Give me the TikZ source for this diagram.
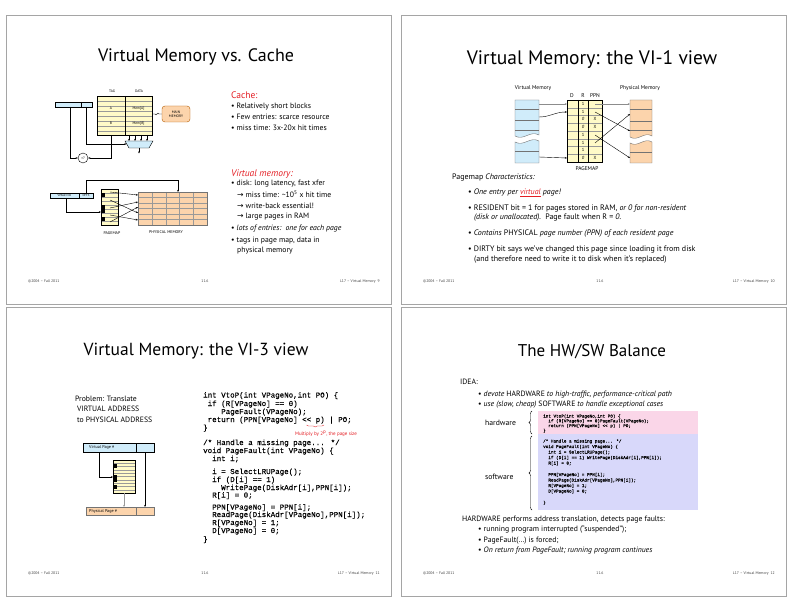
\documentclass[tikz,border=0pt]{standalone}
\usepackage{fontspec}
\setmainfont{PT Sans}
\setmonofont{Liberation Mono}
\newfontfamily\codefont{Liberation Mono}[FakeBold=0.25]
\newfontfamily\symf{DejaVu Sans}
\usetikzlibrary{arrows.meta,decorations.pathreplacing,shapes.geometric}
\definecolor{vmblue}{RGB}{208,236,250}
\definecolor{pmyellow}{RGB}{255,250,200}
\definecolor{pmorange}{RGB}{252,212,172}
\definecolor{ttlred}{RGB}{228,30,36}
\definecolor{hwpink}{RGB}{250,214,232}
\definecolor{swblue}{RGB}{216,216,250}
\definecolor{edge}{RGB}{165,165,165}
\newcommand{\rarr}{{\symf\char"2192}}
\begin{document}
\begin{tikzpicture}[x=1pt,y=-1pt,
  ttl/.style={font=\fontsize{18}{22}\selectfont, inner sep=0pt},
  txt/.style={font=\fontsize{7.7}{9}\selectfont, anchor=base west, inner sep=0pt},
  txtb/.style={font=\fontsize{7.95}{9}\selectfont, anchor=base west, inner sep=0pt},
  redh/.style={font=\fontsize{9.5}{11}\selectfont, text=ttlred, anchor=base west, inner sep=0pt},
  foot/.style={font=\fontsize{3.8}{4.5}\selectfont, text=black!75, inner sep=0pt},
  lbl/.style={font=\fontsize{3.6}{4}\selectfont, inner sep=0pt},
  mlbl/.style={font=\fontsize{5.5}{6}\selectfont, inner sep=0pt},
  code/.style={font=\codefont\fontsize{7.5}{8}\selectfont, anchor=base west, inner sep=0pt},
  scode/.style={font=\codefont\fontsize{4.3}{5}\selectfont, anchor=base west, inner sep=0pt},
  wire/.style={line width=0.4pt},
  grid/.style={draw=black!40, line width=0.3pt},
  arr/.style={-{Stealth[length=2.2pt,width=1.8pt]}, line width=0.4pt},
  border/.style={draw=edge, line width=0.7pt},
]
\useasboundingbox (0,0) rectangle (792,612);
\fill[white] (0,0) rectangle (792,612);
% slide borders
\draw[border] (6,15) rectangle (391,304);
\draw[border] (401,15) rectangle (786,304);
\draw[border] (6,307) rectangle (391,596);
\draw[border] (401,307) rectangle (786,596);

%================ SLIDE 1 =================
\node[ttl] (t1) at (196,57) {Virtual Memory vs. Cache};
% cache diagram
\node[lbl] (tag) at (112,91) {TAG};
\node[lbl] (data) at (139,91) {DATA};
\fill[pmyellow] (97,96) rectangle (152,135);
\foreach \yy in {101,106,111,116,121,126,131} \draw[grid] (97,\yy) -- (152,\yy);
\draw[wire] (97,96) rectangle (152,135);
\draw[wire] (125,96) -- (125,135);
\node[lbl] (ta) at (111,108.5) {A};
\node[lbl] (tb) at (111,123.5) {B};
\node[lbl] (ma) at (138.5,108.5) {Mem[A]};
\node[lbl] (mb) at (138.5,123.5) {Mem[B]};
\node[draw=orange!70!black, fill=pmorange, rounded corners=3pt, minimum width=28pt, minimum height=16pt, lbl, align=center] (mm) at (176,114) {MAIN\\MEMORY};
\coordinate (tabr) at (152,114);
\draw[wire] (tabr) -- (155,114) .. controls (156.5,117) and (157.5,111) .. (159,114) -- (mm.west);
\coordinate (areg) at (55,102);
\draw[wire, fill=vmblue] (areg) rectangle (92,107);
\draw[wire] (81,102) -- (81,107);
\draw[wire, fill=vmblue] (125,141) -- (153,141) -- (149,148) -- (129,148) -- cycle;
\foreach \xx in {129,135,141,147} \draw[arr] (\xx,135) -- (\xx,141);
\coordinate (muxo) at (139,148);
\coordinate (muxe) at (139,153.5);
\draw[arr] (muxo) -- (muxe);
\node[draw, circle, minimum size=10pt, inner sep=0pt, lbl] (cmp) at (83,158) {=?};
\coordinate (a1) at (70,107);
\coordinate (a2) at (86,107);
\coordinate (muxl) at (126.5,144);
\coordinate (tagb) at (111,135);
\draw[arr] (a1) |- (cmp.west);
\draw[arr] (a2) |- (muxl);
\draw[arr] (tagb) |- (cmp.east);
% paging diagram
\draw[wire, fill=vmblue] (50,193) rectangle (93,198);
\draw[wire] (79,193) -- (79,198);
\node[lbl, font=\fontsize{3}{3}\selectfont] (vpn) at (64.5,195.6) {VPAGE NO.};
\node[lbl, font=\fontsize{3}{3}\selectfont] (offs) at (86,195.6) {OFFS};
\fill[pmyellow] (101,189) rectangle (118,225);
\foreach \yy in {193,197,...,221} \draw[grid] (101,\yy) -- (118,\yy);
\fill (101,193) rectangle (105,197);
\fill (101,205) rectangle (105,213);
\fill (101,217) rectangle (105,221);
\draw[wire] (101,189) rectangle (118,225);
\fill[pmorange] (138,192) rectangle (207,225);
\foreach \xx in {152,166,179,193} \draw[grid] (\xx,192) -- (\xx,225);
\foreach \yy in {197.5,203,208.5,214,219.5} \draw[grid] (138,\yy) -- (207,\yy);
\draw[wire, draw=black!55] (138,192) rectangle (207,225);
\coordinate (o1) at (86,193);
\coordinate (o2) at (178,192);
\draw[arr] (o1) |- (178,180) -- (o2);
\coordinate (v1) at (66,198);
\coordinate (v2) at (101,212);
\draw[arr] (v1) |- (v2);
\foreach \ya/\yb in {192/195,200/213,208/202,215/220,222/207} \draw[arr] (110,\ya) -- (138,\yb);
\node[lbl, font=\fontsize{4}{4}\selectfont] (pml) at (112,233) {PAGEMAP};
\node[lbl, font=\fontsize{4}{4}\selectfont] (phl) at (166,232) {PHYSICAL MEMORY};
% text
\node[redh] at (231,99) {Cache:};
\node[txt] at (231,108.5) {• Relatively short blocks};
\node[txt] at (231,119.5) {• Few entries: scarce resource};
\node[txt] at (231,130.5) {• miss time: 3x-20x hit times};
\node[redh] at (231,177) {\itshape Virtual memory:};
\node[txt] at (231,186) {• disk: long latency, fast xfer};
\node[txt] at (237,197.5) {\rarr\ miss time: \textasciitilde10\textsuperscript{5} x hit time};
\node[txt] at (237,208.5) {\rarr\ write-back essential!};
\node[txt] at (237,219) {\rarr\ large pages in RAM};
\node[txt] at (231,231) {• \itshape lots of entries:\ \ one for each page};
\node[txt] at (231,242.5) {• tags in page map, data in};
\node[txt] at (237,253) {physical memory};
% footer
\node[foot, anchor=base west] at (28,283) {©2004 – Fall 2011};
\node[foot, anchor=base] at (205,283) {11.6};
\node[foot, anchor=base east] at (380,283) {L17 – Virtual Memory\ \ 9};

%================ SLIDE 2 =================
\node[ttl, font=\fontsize{19.5}{22}\selectfont] (t2) at (592,60) {Virtual Memory: the VI-1 view};
\node[mlbl] (vml) at (533,88) {Virtual Memory};
\node[mlbl] (pml2) at (640,88) {Physical Memory};
% virtual memory column
\draw[wire, draw=black!55, fill=vmblue] (515,100) -- (539,100) -- (539,135) .. controls (530,130) and (524,141) .. (515,136) -- cycle;
\draw[wire, draw=black!55, fill=vmblue] (515,142) .. controls (524,147) and (530,136) .. (539,141) -- (539,163) -- (515,163) -- cycle;
\foreach \yy in {109,120,130,151} \draw[wire, draw=black!55] (515,\yy) -- (539,\yy);
% physical memory column
\draw[wire, draw=black!55, fill=pmorange] (630,100) -- (652,100) -- (652,136) .. controls (644,131) and (638,142) .. (630,137) -- cycle;
\draw[wire, draw=black!55, fill=pmorange] (630,143) .. controls (638,148) and (644,137) .. (652,142) -- (652,163) -- (630,163) -- cycle;
\foreach \yy in {109,121,130,152} \draw[wire, draw=black!55] (630,\yy) -- (652,\yy);
% pagemap
\fill[pmyellow] (567,100) rectangle (602,162);
\foreach \i in {1,...,7} \draw[grid] (567,100+\i*7.75) -- (602,100+\i*7.75);
\draw[wire] (567,100) rectangle (602,162);
\draw[wire] (578,100) -- (578,162);
\draw[wire] (588,100) -- (588,162);
\node[mlbl] at (572,96) {D};
\node[mlbl] at (583,96) {R};
\node[mlbl] at (595,96) {PPN};
\foreach \r/\v in {1/1,2/1,3/\textit{0},4/\textit{0},5/1,6/1,7/1,8/\textit{0}}
  \node[lbl, font=\fontsize{4.5}{5}\selectfont] at (583,100+\r*7.75-3.875) {\v};
\foreach \r in {3,4,8}
  \node[lbl, font=\fontsize{4.5}{5}\selectfont] at (595,100+\r*7.75-3.875) {X};
\node[mlbl] (pgm) at (587,169) {PAGEMAP};
\coordinate (vr1) at (539,104);
\coordinate (pl1) at (567,104);
\coordinate (pr1) at (595,104);
\coordinate (ph1) at (630,104);
\draw[arr, draw=black!45] (vr1) -- (pl1);
\draw[arr, draw=black!45] (pr1) -- (ph1);
\coordinate (vr2) at (539,117);
\coordinate (pl2) at (567,112);
\draw[arr] (vr2) .. controls (550,117) and (555,112) .. (pl2);
\coordinate (pr2) at (595,112);
\coordinate (ph4) at (630,131);
\draw[arr] (pr2) -- (ph4);
\coordinate (pr5) at (595,135);
\coordinate (ph8) at (630,158);
\draw[arr] (pr5) -- (ph8);
\coordinate (pr6) at (595,143);
\coordinate (ph2) at (630,114);
\draw[arr] (pr6) -- (ph2);
\coordinate (vr8) at (539,157);
\coordinate (pl8) at (567,158);
\draw[arr] (vr8) -- (pl8);
% text
\node[txtb] at (452,180) {Pagemap \itshape Characteristics:};
\node[txtb] at (468,195) {• \itshape One entry per \textcolor{ttlred}{\underline{virtual}} page!};
\node[txtb] at (468,211) {• RESIDENT bit = 1 for pages stored in RAM, \itshape or 0 for non-resident};
\node[txtb] at (474,219.5) {\itshape (disk or unallocated).\upshape\ \ Page fault when R = \itshape 0.};
\node[txtb] at (468,236) {• \itshape Contains \upshape PHYSICAL \itshape page number (PPN) of each resident page};
\node[txtb] at (468,252) {• DIRTY bit says we’ve changed this page since loading it from disk};
\node[txtb] at (474,261.5) {(and therefore need to write it to disk when it’s replaced)};
\node[foot, anchor=base west] at (423,283) {©2004 – Fall 2011};
\node[foot, anchor=base] at (600,283) {11.6};
\node[foot, anchor=base east] at (775,283) {L17 – Virtual Memory\ \ 10};

%================ SLIDE 3 =================
\node[ttl, font=\fontsize{17.5}{22}\selectfont] (t3) at (196,351) {Virtual Memory: the VI-3 view};
\node[txt] at (75,401) {Problem: Translate};
\node[txt] at (77,411.5) {VIRTUAL ADDRESS};
\node[txt] at (77,422) {to PHYSICAL ADDRESS};
\draw[wire, fill=vmblue] (83,443) rectangle (154,452);
\draw[wire] (136,443) -- (136,452);
\node[lbl, font=\fontsize{4.2}{5}\selectfont, anchor=west] (vpg) at (89,447.5) {Virtual Page \#};
\fill[pmyellow] (113,460) rectangle (135,493);
\foreach \yy in {463.3,466.6,...,490} \draw[grid] (113,\yy) -- (135,\yy);
\fill (113,464) rectangle (117,468);
\fill (113,475) rectangle (117,482);
\fill (113,485) rectangle (117,489);
\draw[wire] (113,460) rectangle (135,493);
\draw[wire, draw=black!55, fill=pmorange] (86,507) rectangle (154,515);
\draw[wire, draw=black!55] (136,507) -- (136,515);
\node[lbl, font=\fontsize{4.2}{5}\selectfont, anchor=west] (ppg) at (89,511) {Physical Page \#};
\coordinate (vp1) at (99,452);
\coordinate (pm3) at (113,477);
\draw[arr] (vp1) |- (pm3);
\coordinate (pm3b) at (124,493);
\coordinate (pp1) at (124,507);
\draw[arr, draw=black!40, line width=0.8pt] (pm3b) -- (pp1);
\coordinate (vo1) at (145,452);
\coordinate (po1) at (145,507);
\draw[arr] (vo1) -- (po1);
% code
\node[code] at (203,397.5) {int VtoP(int VPageNo,int PO) \{};
\node[code] at (203,406) {\ if (R[VPageNo] == 0)};
\node[code] at (203,414) {\ \ \ \ PageFault(VPageNo);};
\node[code] at (203,422) {\ return (PPN[VPageNo] << p) | PO;};
\node[code] at (203,430) {\}};
\draw[ttlred, line width=0.4pt, decorate, decoration={brace, amplitude=2pt}] (324,425) -- (306.5,425);
\node[lbl, font=\fontsize{5}{6}\selectfont, text=ttlred] (mul) at (326,434) {Multiply by 2\textsuperscript{p}, the page size};
\node[code] at (203,445) {/* Handle a missing page... */};
\node[code] at (203,453) {void PageFault(int VPageNo) \{};
\node[code] at (203,461) {\ \ int i;};
\node[code] at (203,474) {\ \ i = SelectLRUPage();};
\node[code] at (203,482) {\ \ if (D[i] == 1)};
\node[code] at (203,490) {\ \ \ \ WritePage(DiskAdr[i],PPN[i]);};
\node[code] at (203,497.5) {\ \ R[i] = 0;};
\node[code] at (203,509.5) {\ \ PPN[VPageNo] = PPN[i];};
\node[code] at (203,517) {\ \ ReadPage(DiskAdr[VPageNo],PPN[i]);};
\node[code] at (203,525) {\ \ R[VPageNo] = 1;};
\node[code] at (203,533) {\ \ D[VPageNo] = 0;};
\node[code] at (203,541.5) {\}};
\node[foot, anchor=base west] at (28,574) {©2004 – Fall 2011};
\node[foot, anchor=base] at (205,574) {11.6};
\node[foot, anchor=base east] at (380,574) {L17 – Virtual Memory\ \ 11};

%================ SLIDE 4 =================
\node[ttl, font=\fontsize{17}{22}\selectfont] (t4) at (592,352) {The HW/SW Balance};
\node[txt] at (460,384.5) {IDEA:};
\node[txt] at (478,396.5) {• \itshape devote \upshape HARDWARE \itshape to high-traffic, performance-critical path};
\node[txt] at (478,406.5) {• \itshape use (slow, cheap) \upshape SOFTWARE \itshape to handle exceptional cases};
\fill[hwpink] (538,411) rectangle (698,434);
\fill[swblue] (538,434) rectangle (698,510);
\node[scode] at (543,417.5) {int VtoP(int VPageNo,int PO) \{};
\node[scode] at (543,422.3) {\ \ if (R[VPageNo] == 0)PageFault(VPageNo);};
\node[scode] at (543,427.1) {\ \ return (PPN[VPageNo] << p) | PO;};
\node[scode] at (543,431.9) {\}};
\node[scode] at (543,442.5) {/* Handle a missing page... */};
\node[scode] at (543,448) {void PageFault(int VPageNo) \{};
\node[scode] at (543,453.5) {\ \ int i = SelectLRUPage();};
\node[scode] at (543,459) {\ \ if (D[i] == 1) WritePage(DiskAdr[i],PPN[i]);};
\node[scode] at (543,464.5) {\ \ R[i] = 0;};
\node[scode] at (543,476) {\ \ PPN[VPageNo] = PPN[i];};
\node[scode] at (543,481.5) {\ \ ReadPage(DiskAdr[VPageNo],PPN[i]);};
\node[scode] at (543,487) {\ \ R[VPageNo] = 1;};
\node[scode] at (543,492.5) {\ \ D[VPageNo] = 0;};
\node[scode] at (543,504) {\}};
\draw[line width=0.4pt, decorate, decoration={brace, amplitude=3pt}] (532,434) -- (532,411);
\draw[line width=0.4pt, decorate, decoration={brace, amplitude=3pt}] (532,510) -- (532,436);
\node[txt, anchor=west] (hwl) at (485,423) {hardware};
\node[txt, anchor=west] (swl) at (485,477) {software};
\node[txt] at (462,521.5) {HARDWARE performs address translation, detects page faults:};
\node[txt] at (478,531.5) {• running program interrupted (“suspended”);};
\node[txt] at (478,542) {• PageFault(…) is forced;};
\node[txt] at (478,552.5) {• \itshape On return from PageFault; running program continues};
\node[foot, anchor=base west] at (423,574) {©2004 – Fall 2011};
\node[foot, anchor=base] at (600,574) {11.6};
\node[foot, anchor=base east] at (775,574) {L17 – Virtual Memory\ \ 12};
\end{tikzpicture}
\end{document}
